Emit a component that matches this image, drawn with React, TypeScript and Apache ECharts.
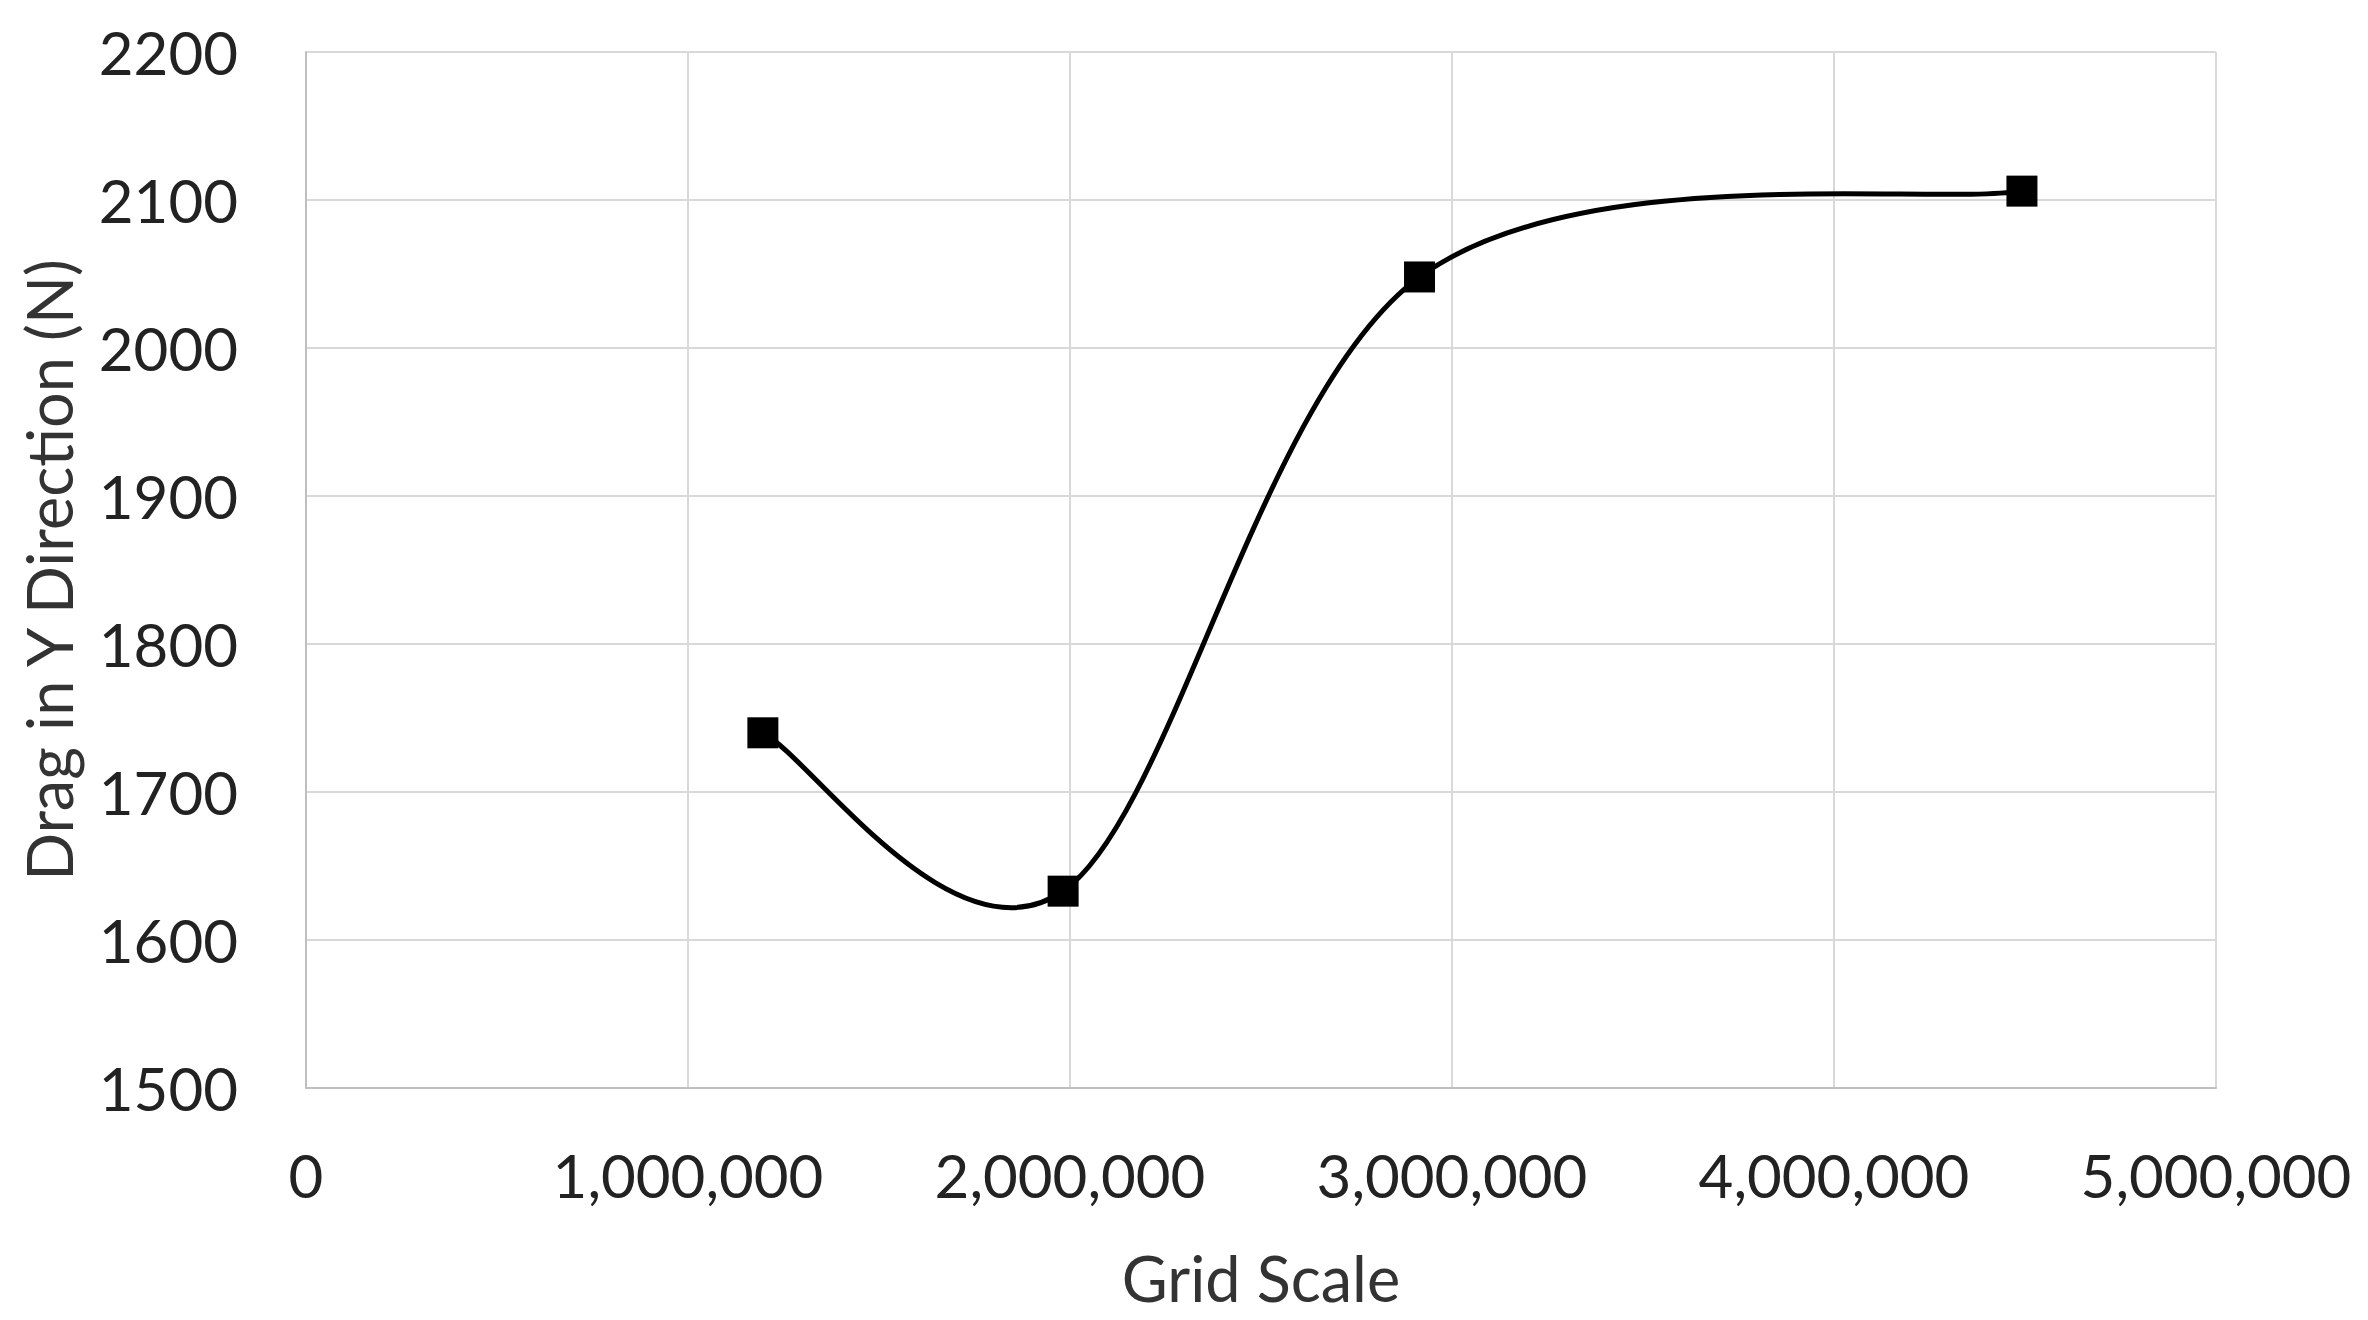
import React, { useEffect, useRef } from "react";
import * as echarts from "echarts";

const gridScale = [1196000, 1982000, 2915000, 4492000];
const dragY = [1740, 1633, 2048, 2106];
const xMin = 0;
const xMax = 5000000;
const xStep = 1000000;
const yMin = 1500;
const yMax = 2200;
const yStep = 100;
const xTitle = "Grid Scale";
const yTitle = "Drag in Y Direction (N)";

const FONT = "Lato";

export default function App() {
  const ref = useRef<HTMLDivElement>(null);
  useEffect(() => {
    const chart = echarts.init(ref.current!, null, { renderer: "svg" });
    const pts = gridScale.map((x, i) => [x, dragY[i]]);
    const segs = pts.slice(0, -1).map((p, i) => [p[0], p[1], i]);
    chart.setOption({
      animation: false,
      backgroundColor: "#ffffff",
      grid: { left: 306, top: 52, right: 152, bottom: 232, containLabel: false },
      xAxis: {
        type: "value",
        min: xMin,
        max: xMax,
        interval: xStep,
        name: xTitle,
        nameLocation: "middle",
        nameGap: 158,
        nameTextStyle: { fontFamily: FONT, fontSize: 63, color: "#333333" },
        axisLine: { show: true, lineStyle: { color: "#bfbfbf", width: 2 } },
        axisTick: { show: false },
        axisLabel: {
          fontFamily: FONT,
          fontSize: 60,
          color: "#222222",
          margin: 57,
          formatter: (v: number) => v.toLocaleString("en-US"),
        },
        splitLine: { show: true, lineStyle: { color: "#d9d9d9", width: 2 } },
      },
      yAxis: {
        type: "value",
        min: yMin,
        max: yMax,
        interval: yStep,
        name: yTitle,
        nameLocation: "middle",
        nameGap: 226,
        nameTextStyle: { fontFamily: FONT, fontSize: 63, color: "#333333" },
        axisLine: { show: true, lineStyle: { color: "#bfbfbf", width: 2 } },
        axisTick: { show: false },
        axisLabel: {
          fontFamily: FONT,
          fontSize: 60,
          color: "#222222",
          margin: 68,
          formatter: (v: number) => String(v),
        },
        splitLine: { show: true, lineStyle: { color: "#d9d9d9", width: 2 } },
      },
      series: [
        {
          type: "custom",
          data: segs,
          silent: true,
          z: 2,
          renderItem: (params: any, api: any) => {
            const i = api.value(2) as number;
            const c = pts.map((p) => api.coord(p));
            const n = c.length;
            const p0 = c[Math.max(i - 1, 0)];
            const p1 = c[i];
            const p2 = c[i + 1];
            const p3 = c[Math.min(i + 2, n - 1)];
            return {
              type: "bezierCurve",
              shape: {
                x1: p1[0],
                y1: p1[1],
                x2: p2[0],
                y2: p2[1],
                cpx1: p1[0] + (p2[0] - p0[0]) / 6,
                cpy1: p1[1] + (p2[1] - p0[1]) / 6,
                cpx2: p2[0] - (p3[0] - p1[0]) / 6,
                cpy2: p2[1] - (p3[1] - p1[1]) / 6,
              },
              style: { stroke: "#000000", lineWidth: 5, fill: "none" },
            };
          },
        },
        {
          type: "scatter",
          data: pts,
          symbol: "rect",
          symbolSize: 31,
          itemStyle: { color: "#000000", opacity: 1 },
          z: 3,
        },
      ],
    });
    return () => chart.dispose();
  }, []);
  return (
    <div
      ref={ref}
      style={{ position: "fixed", left: 0, top: 0, width: 2368, height: 1320 }}
    />
  );
}
